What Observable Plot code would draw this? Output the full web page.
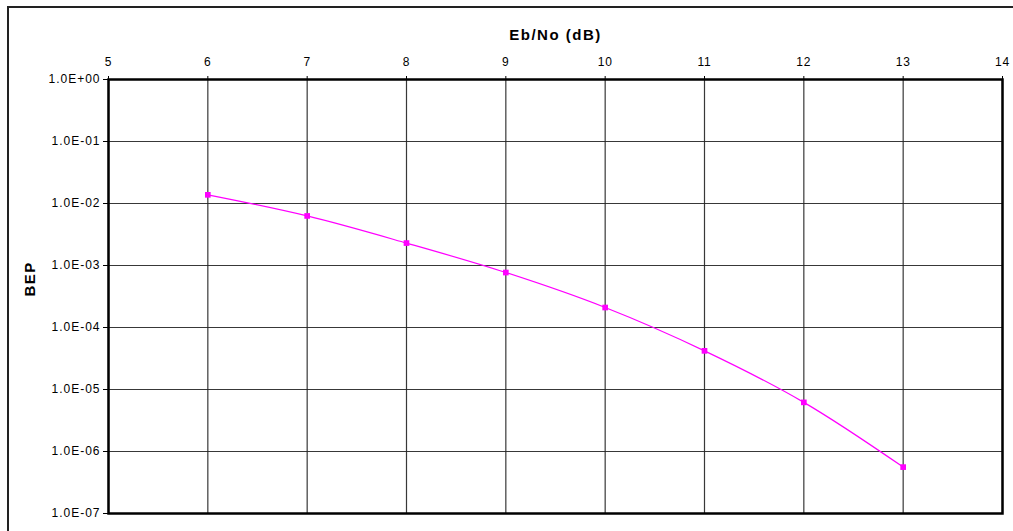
<!DOCTYPE html>
<html>
<head>
<meta charset="utf-8">
<script src="https://cdn.jsdelivr.net/npm/d3@7"></script>
<script src="https://cdn.jsdelivr.net/npm/@observablehq/plot@0.6"></script>
<style>
  html, body { margin: 0; padding: 0; background: #fff; overflow: hidden; }
  #wrap { position: relative; width: 1013px; height: 531px; overflow: hidden; }
  .bline { position: absolute; background: #222; }
  #chart { position: absolute; left: 0; top: 0; }
</style>
</head>
<body>
<div id="wrap">
  <div class="bline" style="left:7px; top:6px; width:1006px; height:2px;"></div>
  <div class="bline" style="left:7px; top:6px; width:2px; height:525px;"></div>
  <div id="chart"></div>
</div>
<script>
const ebno = [6, 7, 8, 9, 10, 11, 12, 13];
const bep = [1.38e-2, 6.3e-3, 2.3e-3, 7.7e-4, 2.1e-4, 4.2e-5, 6.2e-6, 5.6e-7];
const xTicks = [5, 6, 7, 8, 9, 10, 11, 12, 13, 14];
const yTicks = [1, 1e-1, 1e-2, 1e-3, 1e-4, 1e-5, 1e-6, 1e-7];
const xTitle = "Eb/No (dB)";
const yTitle = "BEP";

const data = ebno.map((x, i) => ({x, y: bep[i]}));

function sci(d) {
  const e = Math.round(Math.log10(d));
  const m = d / Math.pow(10, e);
  const s = e < 0 ? "-" : "+";
  return m.toFixed(1) + "E" + s + String(Math.abs(e)).padStart(2, "0");
}

const chart = Plot.plot({
  width: 1013,
  height: 531,
  marginLeft: 108,
  marginTop: 79,
  marginRight: 11,
  marginBottom: 18,
  style: {fontFamily: "'Liberation Sans', Arial, sans-serif", fontSize: "12px", background: "transparent", color: "#000"},
  x: {domain: [5, 14]},
  y: {type: "log", domain: [1e-7, 1]},
  marks: [
    Plot.gridX(xTicks, {stroke: "#222", strokeOpacity: 0.9, strokeWidth: 1.2}),
    Plot.gridY(yTicks, {stroke: "#222", strokeOpacity: 0.9, strokeWidth: 1.2}),
    Plot.axisX(xTicks, {anchor: "top", tickSize: 4, tickPadding: 10, label: null, fontSize: 12, tickFormat: d => String(d)}),
    Plot.axisY(yTicks, {anchor: "left", tickSize: 5, tickPadding: 3, label: null, fontSize: 12, tickFormat: sci}),
    Plot.line(data, {x: "x", y: "y", stroke: "#ff00ff", strokeWidth: 1.2, curve: "catmull-rom"}),
    Plot.dot(data, {x: "x", y: "y", symbol: "square", r: 3.2, fill: "#ff00ff", stroke: "none"}),
    Plot.frame({stroke: "#000", strokeWidth: 2.5}),
    Plot.text([xTitle], {frameAnchor: "top", lineAnchor: "middle", dy: -44, text: d => d, fontWeight: "bold", fontSize: 15, className: "ttl"}),
    Plot.text([yTitle], {frameAnchor: "left", lineAnchor: "middle", dx: -78, rotate: -90, text: d => d, fontWeight: "bold", fontSize: 15, className: "ttl"})
  ]
});
const sel = d3.select(chart);
sel.selectAll("[aria-label='x-axis tick label'] text").style("letter-spacing", "0.8px").style("font-size", "12px");
sel.selectAll("[aria-label='y-axis tick label'] text").style("letter-spacing", "1px").style("font-size", "12px");
sel.selectAll(".ttl text").style("letter-spacing", "1.5px");
document.getElementById("chart").appendChild(chart);
</script>
</body>
</html>
